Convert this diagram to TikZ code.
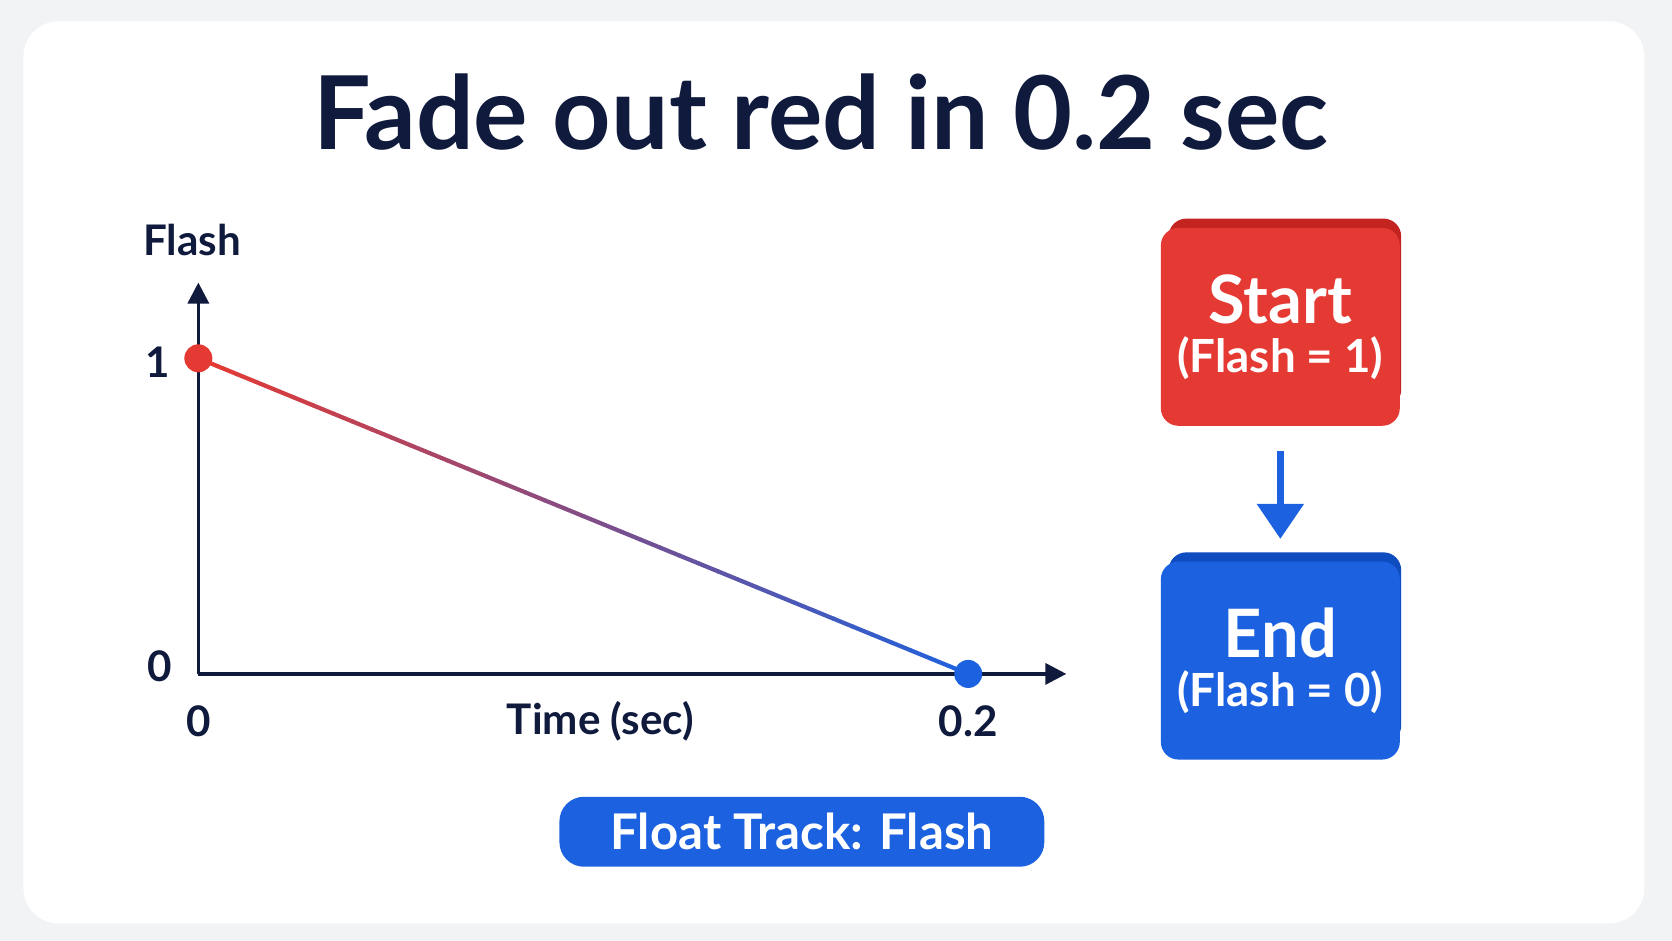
\documentclass[tikz,border=0pt]{standalone}
\usepackage{fontspec}
\setmainfont{Lato}
\usepackage{tikz}
\usetikzlibrary{calc,positioning,arrows.meta}

\definecolor{navy}{HTML}{0F1A3C}
\definecolor{redbox}{HTML}{E53A33}
\definecolor{redside}{HTML}{C42420}
\definecolor{bluebox}{HTML}{1C62E0}
\definecolor{blueside}{HTML}{0F4CC0}
\definecolor{bgray}{HTML}{F2F3F5}

\tikzset{
  lbl/.style={text=navy, font=\fontsize{12}{14}\selectfont\bfseries},
  box/.style={fill=#1, rounded corners=5pt, minimum width=2.39cm, minimum height=1.98cm, align=center, text=white, inner sep=0pt},
  dot/.style={circle, fill=#1, minimum size=0.28cm, inner sep=0pt}
}

\begin{document}
\begin{tikzpicture}[x=0.010663cm, y=-0.010663cm]
%Background
\fill[bgray] (0,0) rectangle (1568,882);
\useasboundingbox (0,0) rectangle (1568,882);
\fill[white, rounded corners=10pt] (22,20) rectangle (1542,866);

%Title
\node[text=navy, font=\fontsize{29}{34}\selectfont\bfseries] (title) at (770,105) {Fade out red in 0.2 sec};

%Axis
\coordinate (o) at (186,632);
\coordinate (ytop) at (186,265);
\coordinate (xend) at (1000,632);
\draw[navy, line width=1pt, -{Triangle[length=6pt,width=6pt]}] (o) -- (ytop);
\draw[navy, line width=1pt, -{Triangle[length=6pt,width=6pt]}] (o) -- (xend);
\node[lbl] (ylab) at (180,225) {Flash};
\node[lbl] (y1) at (148,340) {1};
\node[lbl] (y0) at (150,625) {0};
\node[lbl] (x0) at (186,676) {0};
\node[lbl] (xlab) at (563,676) {Time (sec)};
\node[lbl] (x2) at (908,676) {0.2};

%Fade line
\coordinate (p0) at (186,336);
\coordinate (p1) at (908,632);
\foreach \i in {0,...,39}{
  \pgfmathsetmacro{\a}{\i/40}
  \pgfmathsetmacro{\b}{(\i+1)/40}
  \pgfmathsetmacro{\c}{100-2.5*\i}
  \draw[redbox!\c!bluebox, line width=1.2pt, line cap=round] ($(p0)!\a!(p1)$) -- ($(p0)!\b!(p1)$);
}
\node[dot=redbox] (d0) at (p0) {};
\node[dot=bluebox] (d1) at (p1) {};

%Start and End
\fill[redside, rounded corners=5pt] (1096,205) rectangle (1314,382);
\node[box=redbox, anchor=north west] (start) at (1088,213) {{\fontsize{19}{22}\selectfont\bfseries Start}\\[2pt]{\fontsize{13}{16}\selectfont\bfseries (Flash = 1)}};
\fill[blueside, rounded corners=5pt] (1096,518) rectangle (1314,697);
\node[box=bluebox, anchor=north west] (end) at (1088,526) {{\fontsize{19}{22}\selectfont\bfseries End}\\[2pt]{\fontsize{13}{16}\selectfont\bfseries (Flash = 0)}};
\draw[bluebox, line width=2pt, -{Triangle[length=10pt,width=13pt]}] ([yshift=-0.25cm]start.south) -- ([yshift=0.22cm]end.north);

%Track
\node[fill=bluebox, rounded corners=7pt, minimum width=4.85cm, minimum height=0.7cm, text=white, font=\fontsize{14}{16}\selectfont\bfseries] (track) at (752,780) {Float Track: Flash};
\end{tikzpicture}
\end{document}
